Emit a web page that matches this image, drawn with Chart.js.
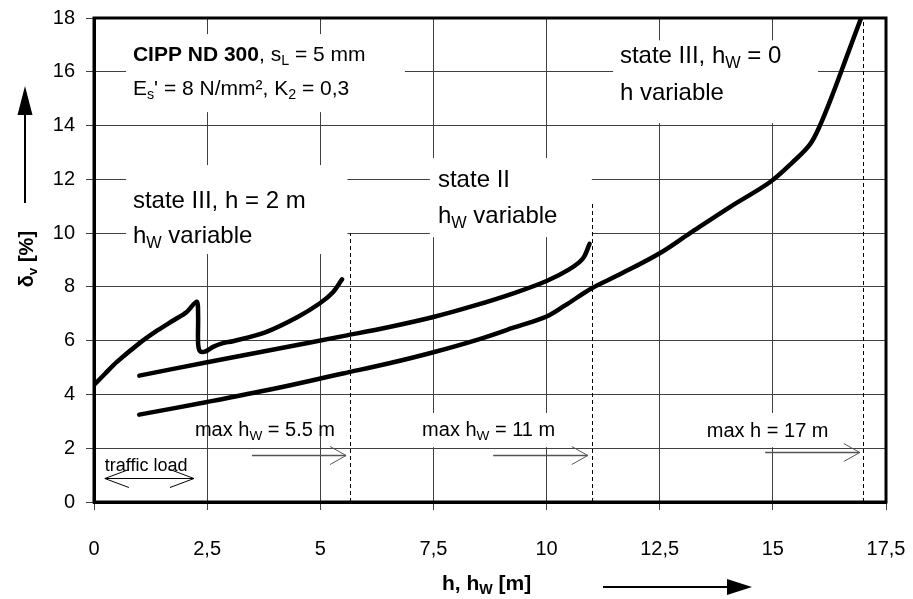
<!DOCTYPE html>
<html>
<head>
<meta charset="utf-8">
<script src="https://cdn.jsdelivr.net/npm/chart.js@4.4.1/dist/chart.umd.min.js"></script>
<style>
  body { margin: 0; background: #fff; }
  #wrap { width: 913px; height: 599px; }
</style>
</head>
<body>
<div id="wrap"><canvas id="chart" width="913" height="599"></canvas></div>
<script>
// les donnees lues sur le graphique
// state III, h = 2 m, hW variable
let stateIIIhX = [0, 0.25, 0.5, 1, 1.4, 1.75, 2.05, 2.27, 2.3, 2.3, 2.34, 2.45, 2.63, 2.85, 3.07, 3.8, 4.5, 5.0, 5.28, 5.48];
let stateIIIhY = [4.35, 4.78, 5.2, 5.9, 6.38, 6.75, 7.07, 7.45, 6.95, 5.91, 5.61, 5.59, 5.77, 5.91, 5.98, 6.32, 6.88, 7.4, 7.8, 8.28];
// state II, hW variable
let stateIIX = [1, 2.5, 4, 5.5, 6.5, 7.5, 8.4, 9.3, 10, 10.5, 10.8, 10.95];
let stateIIY = [4.7, 5.2, 5.68, 6.17, 6.5, 6.88, 7.3, 7.78, 8.22, 8.65, 9.05, 9.6];
// state III, hW = 0, h variable
let stateIIIwX = [1, 2.5, 4, 5.5, 6.5, 7.5, 8.5, 9.3, 10, 10.4, 11, 11.6, 12.5, 13.17, 14.05, 14.94, 15.44, 15.82, 16.04, 16.33, 16.64, 16.95];
let stateIIIwY = [3.25, 3.72, 4.22, 4.78, 5.15, 5.57, 6.05, 6.5, 6.9, 7.3, 7.95, 8.45, 9.25, 10.0, 10.97, 11.9, 12.64, 13.3, 14.0, 15.2, 16.6, 18];
// limites (lignes pointillees)
let limitX = [5.65, 11, 17];
let limitTop = [10, 11.15, 18];

const FONT = '"Liberation Sans", Arial, sans-serif';

function toPoints(xs, ys) {
    return xs.map((x, i) => ({x: x, y: ys[i]}));
}

function courbe(xs, ys, tension) {
    return {
        data: toPoints(xs, ys),
        showLine: true,
        borderColor: '#000',
        borderWidth: 4.5,
        borderCapStyle: 'round',
        borderJoinStyle: 'round',
        pointRadius: 0,
        tension: tension
    };
}

// les textes (position en valeurs du graphique)
let notes = [
    {x: 0.86, y: 16.39, size: 21, gap: 1.26, lines: [
        [['CIPP ND 300', 'b'], [', s'], ['L', 's'], [' = 5 mm']],
        [['E'], ['s', 's'], ["' = 8 N/mm², K"], ['2', 's'], [' = 0,3']]
    ]},
    {x: 0.86, y: 10.93, size: 24, gap: 1.3, lines: [
        [['state III, h = 2 m']],
        [['h'], ['W', 's'], [' variable']]
    ]},
    {x: 7.60, y: 11.71, size: 24, gap: 1.34, lines: [
        [['state II']],
        [['h'], ['W', 's'], [' variable']]
    ]},
    {x: 11.62, y: 16.32, size: 24, gap: 1.38, lines: [
        [['state III, h'], ['W', 's'], [' = 0']],
        [['h variable']]
    ]},
    {x: 2.23, y: 2.45, size: 20, gap: 0, lines: [[['max h'], ['W', 's'], [' = 5.5 m']]]},
    {x: 7.25, y: 2.45, size: 20, gap: 0, lines: [[['max h'], ['W', 's'], [' = 11 m']]]},
    {x: 13.54, y: 2.42, size: 20, gap: 0, lines: [[['max h = 17 m']]]},
    {x: 0.24, y: 1.15, size: 18, gap: 0, lines: [[['traffic load']]]}
];
// fonds blancs derriere les textes [x0, x1, yHaut, yBas]
let boxes = [
    [0.71, 6.87, 17.4, 14.5],
    [0.71, 5.6, 12.53, 9.22],
    [7.42, 11.0, 12.79, 9.85],
    [11.47, 16.0, 17.17, 14.09],
    [7.09, 10.41, 3.31, 2.04],
    [13.39, 16.75, 3.31, 2.04]
];
// fleches [x0, x1, y, double]
let arrows = [
    [3.49, 5.57, 1.75, false],
    [8.82, 10.91, 1.75, false],
    [14.83, 16.92, 1.86, false],
    [0.24, 2.21, 0.89, true]
];

function drawRich(ctx, x, y, parts, size) {
    let cx = x;
    parts.forEach(p => {
        let st = p[1] || '';
        let sub = st.includes('s');
        let fs = sub ? size * 0.68 : size;
        ctx.font = (st.includes('b') ? 'bold ' : '') + fs + 'px ' + FONT;
        ctx.fillText(p[0], cx, sub ? y + size * 0.2 : y);
        cx += ctx.measureText(p[0]).width;
    });
    return cx;
}

function openHead(ctx, tx, ty, dir, len, half) {
    ctx.beginPath();
    ctx.moveTo(tx - dir * len, ty - half);
    ctx.lineTo(tx, ty);
    ctx.lineTo(tx - dir * len, ty + half);
    ctx.stroke();
}

function filledHead(ctx, tx, ty, dx, dy, len, half) {
    // dx, dy : direction de la fleche
    ctx.beginPath();
    ctx.moveTo(tx, ty);
    ctx.lineTo(tx - dx * len - dy * half, ty - dy * len - dx * half);
    ctx.lineTo(tx - dx * len + dy * half, ty - dy * len + dx * half);
    ctx.closePath();
    ctx.fill();
}

let decorPlugin = {
    id: 'decor',
    beforeDatasetsDraw(chart) {
        let ctx = chart.ctx, xs = chart.scales.x, ys = chart.scales.y;
        ctx.save();
        // fonds blancs
        ctx.fillStyle = '#fff';
        boxes.forEach(b => {
            let x0 = xs.getPixelForValue(b[0]), x1 = xs.getPixelForValue(b[1]);
            let y0 = ys.getPixelForValue(b[2]), y1 = ys.getPixelForValue(b[3]);
            ctx.fillRect(x0, y0, x1 - x0, y1 - y0);
        });
        // lignes pointillees
        ctx.strokeStyle = '#000';
        ctx.lineWidth = 1;
        ctx.setLineDash([4, 3]);
        limitX.forEach((v, i) => {
            let px = Math.round(xs.getPixelForValue(v)) + 0.5;
            ctx.beginPath();
            ctx.moveTo(px, ys.getPixelForValue(0));
            ctx.lineTo(px, ys.getPixelForValue(limitTop[i]));
            ctx.stroke();
        });
        ctx.setLineDash([]);
        // fleches fines
        arrows.forEach(a => {
            let x0 = xs.getPixelForValue(a[0]), x1 = xs.getPixelForValue(a[1]);
            let py = Math.round(ys.getPixelForValue(a[2])) + 0.5;
            ctx.strokeStyle = a[3] ? '#000' : '#555';
            ctx.lineWidth = a[3] ? 1 : 1.5;
            ctx.beginPath();
            ctx.moveTo(x0, py);
            ctx.lineTo(x1, py);
            ctx.stroke();
            ctx.lineWidth = 1;
            if (a[3]) {
                openHead(ctx, x1, py, 1, 24, 9);
                openHead(ctx, x0, py, -1, 24, 9);
            } else {
                openHead(ctx, x1, py, 1, 16, 9);
            }
        });
        // textes
        ctx.fillStyle = '#000';
        ctx.textBaseline = 'alphabetic';
        ctx.textAlign = 'left';
        notes.forEach(n => {
            n.lines.forEach((line, i) => {
                drawRich(ctx, xs.getPixelForValue(n.x), ys.getPixelForValue(n.y - i * n.gap), line, n.size);
            });
        });
        ctx.restore();
    },
    afterDraw(chart) {
        let ctx = chart.ctx, a = chart.chartArea;
        ctx.save();
        // cadre epais
        ctx.strokeStyle = '#000';
        ctx.lineWidth = 3;
        ctx.strokeRect(a.left, a.top, a.right - a.left, a.bottom - a.top);
        // titre axe y avec fleche
        ctx.fillStyle = '#000';
        ctx.lineWidth = 2;
        ctx.beginPath();
        ctx.moveTo(25, 203);
        ctx.lineTo(25, 110);
        ctx.stroke();
        filledHead(ctx, 25, 86, 0, -1, 29, 7.5);
        ctx.save();
        ctx.translate(33, 259);
        ctx.rotate(-Math.PI / 2);
        ctx.textAlign = 'left';
        ctx.textBaseline = 'alphabetic';
        ctx.font = 'bold 20px ' + FONT;
        let w = ctx.measureText('δ').width + ctx.measureText(' [%]').width;
        ctx.font = 'bold 14px ' + FONT;
        w += ctx.measureText('v').width;
        drawRich(ctx, -w / 2, 0, [['δ', 'b'], ['v', 'bs'], [' [%]', 'b']], 20);
        ctx.restore();
        // titre axe x avec fleche
        ctx.textAlign = 'left';
        ctx.textBaseline = 'alphabetic';
        drawRich(ctx, 442, 590, [['h, h', 'b'], ['W', 'bs'], [' [m]', 'b']], 21);
        ctx.beginPath();
        ctx.moveTo(603, 587);
        ctx.lineTo(735, 587);
        ctx.stroke();
        filledHead(ctx, 752, 587, 1, 0, 25, 8);
        ctx.restore();
    }
};

let chart = new Chart(document.getElementById('chart'), {
    type: 'scatter',
    data: {
        datasets: [
            courbe(stateIIIhX, stateIIIhY, 0.3),
            courbe(stateIIX, stateIIY, 0.35),
            courbe(stateIIIwX, stateIIIwY, 0.35)
        ]
    },
    options: {
        responsive: false,
        animation: false,
        layout: { padding: { top: 18, right: 27, left: 0, bottom: 0 } },
        plugins: { legend: { display: false }, tooltip: { enabled: false } },
        scales: {
            x: {
                type: 'linear',
                min: 0,
                max: 17.5,
                afterFit: s => { s.height = 97; s.paddingLeft = 0; s.paddingRight = 0; },
                ticks: {
                    stepSize: 2.5,
                    color: '#000',
                    padding: 27,
                    maxRotation: 0,
                    autoSkip: false,
                    font: { family: FONT, size: 20 },
                    callback: v => v.toString().replace('.', ',')
                },
                grid: { color: '#404040', lineWidth: 1, tickLength: 8 },
                border: { display: true, color: '#000', width: 3 }
            },
            y: {
                min: 0,
                max: 18,
                afterFit: s => { s.width = 94; s.paddingTop = 0; s.paddingBottom = 0; },
                ticks: {
                    stepSize: 2,
                    color: '#000',
                    padding: 11,
                    font: { family: FONT, size: 20 }
                },
                grid: { color: '#404040', lineWidth: 1, tickLength: 8 },
                border: { display: true, color: '#000', width: 3 }
            }
        }
    },
    plugins: [decorPlugin]
});
</script>
</body>
</html>
